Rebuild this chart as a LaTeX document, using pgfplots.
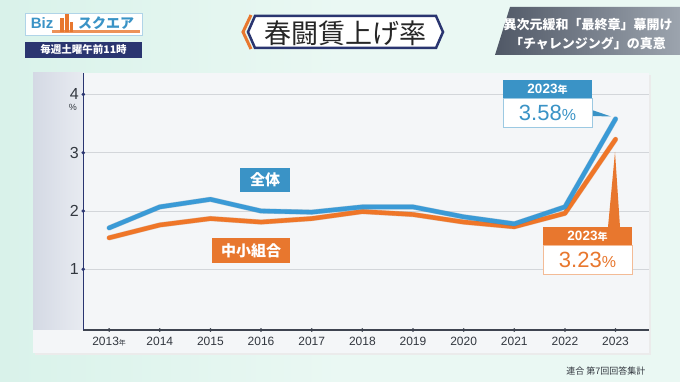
\documentclass[border=0pt]{standalone}
\usepackage{fontspec}
\setmainfont{Liberation Sans}
\newfontfamily\cjk{Noto Sans CJK JP}
\usepackage{pgfplots}
\pgfplotsset{compat=1.18}
\definecolor{mint}{HTML}{D9F2EA}
\definecolor{mintL}{HTML}{EAF8F3}
\definecolor{panelc}{HTML}{F4F6F8}
\definecolor{leftgA}{HTML}{D4D9E4}
\definecolor{leftgB}{HTML}{E8EBF1}
\definecolor{navy}{HTML}{2A3570}
\definecolor{axgray}{HTML}{3E4450}
\definecolor{gridc}{HTML}{D3D6DA}
\definecolor{labc}{HTML}{333840}
\definecolor{blueL}{HTML}{3A9AD6}
\definecolor{orangeL}{HTML}{EF7628}
\definecolor{blueT}{HTML}{3A93C6}
\definecolor{orangeT}{HTML}{E8772E}
\definecolor{darkbox}{HTML}{505866}
\definecolor{lightbox}{HTML}{9CA4AE}
\begin{document}
\begin{tikzpicture}[x=1pt,y=1pt]
\useasboundingbox (0,0) rectangle (680,382);
\fill[mint] (0,0) rectangle (680,382);
\shade[left color=mint, right color=mintL, middle color=mintL] (0,0) rectangle (680,382);
% panel
\fill[black!8] (35,27) rectangle (651,307);
\fill[panelc] (33,29) rectangle (649,309);
\shade[left color=leftgA, right color=leftgB] (33,52) rectangle (83.3,309);
\begin{axis}[
  at={(83.3pt,52pt)}, anchor=south west,
  scale only axis, width=565.7pt, height=257pt,
  xmin=2012.49, xmax=2023.66, ymin=-0.041, ymax=4.367,
  axis x line*=bottom, axis y line*=left,
  x axis line style={draw=axgray, line width=1.6pt, -},
  y axis line style={draw=navy, line width=1.4pt, -},
  xtick={2013,2014,2015,2016,2017,2018,2019,2020,2021,2022,2023},
  xticklabels={2013{\cjk\fontsize{7}{8}\selectfont 年},2014,2015,2016,2017,2018,2019,2020,2021,2022,2023},
  ytick={1,2,3,4},
  major tick length=0pt,
  ymajorgrids, grid style={gridc, line width=0.8pt},
  tick label style={text=labc},
  xticklabel style={font=\fontsize{12}{13}\selectfont, yshift=-3.5pt},
  yticklabel style={font=\fontsize{16}{17}\selectfont, xshift=-1pt},
  /pgf/number format/assume math mode=true,
  clip=false,
]
\addplot[orangeL!80!black, line width=5.2pt, line join=round, line cap=round, opacity=0.35] coordinates {
(2013,1.54) (2014,1.76) (2015,1.87) (2016,1.81) (2017,1.87) (2018,1.99) (2019,1.94) (2020,1.81) (2021,1.73) (2022,1.96) (2023,3.23)};
\addplot[orangeL, line width=4.4pt, line join=round, line cap=round] coordinates {
(2013,1.54) (2014,1.76) (2015,1.87) (2016,1.81) (2017,1.87) (2018,1.99) (2019,1.94) (2020,1.81) (2021,1.73) (2022,1.96) (2023,3.23)};
\addplot[blueL!75!black, line width=5.2pt, line join=round, line cap=round, opacity=0.35] coordinates {
(2013,1.71) (2014,2.07) (2015,2.20) (2016,2.00) (2017,1.98) (2018,2.07) (2019,2.07) (2020,1.90) (2021,1.78) (2022,2.07) (2023,3.58)};
\addplot[blueL, line width=4.4pt, line join=round, line cap=round] coordinates {
(2013,1.71) (2014,2.07) (2015,2.20) (2016,2.00) (2017,1.98) (2018,2.07) (2019,2.07) (2020,1.90) (2021,1.78) (2022,2.07) (2023,3.58)};
\addplot[only marks, mark=*, mark size=1.6pt, axgray] coordinates {
(2013,-0.041) (2014,-0.041) (2015,-0.041) (2016,-0.041) (2017,-0.041) (2018,-0.041) (2019,-0.041) (2020,-0.041) (2021,-0.041) (2022,-0.041) (2023,-0.041)};
\addplot[only marks, mark=*, mark size=1.6pt, navy] coordinates {
(2012.49,1) (2012.49,2) (2012.49,3) (2012.49,4)};
\end{axis}
% percent sign
\node[text=labc, font=\fontsize{9}{10}\selectfont] at (73,275) {\%};
% series labels
\fill[blueT] (240,190) rectangle (290,214);
\node[text=white, font=\cjk\bfseries\fontsize{15}{16}\selectfont] at (265,202) {全体};
\fill[orangeT] (212,119) rectangle (290,144);
\node[text=white, font=\cjk\bfseries\fontsize{15}{16}\selectfont] at (251,131.5) {中小組合};
% blue callout
\fill[blueT] (592,272) -- (611,265.5) -- (592,266) -- cycle;
\fill[white, draw=blueT!50, line width=0.8pt] (503,254.7) rectangle (592,284);
\fill[blueT] (503,284) rectangle (592,302);
\node[text=white, font=\bfseries\fontsize{13.5}{14}\selectfont] at (547.5,293) {2023{\cjk\fontsize{10}{11}\selectfont 年}};
\node[text=blueT, font=\fontsize{22}{24}\selectfont] at (547.5,269.5) {3.58{\fontsize{16}{18}\selectfont\%}};
% orange callout
\fill[orangeT] (608,155) -- (615,230) -- (620,155) -- cycle;
\fill[white, draw=orangeT!50, line width=0.8pt] (543,108) rectangle (632,137);
\fill[orangeT] (543,137) rectangle (632,155);
\node[text=white, font=\bfseries\fontsize{13.5}{14}\selectfont] at (587.5,146) {2023{\cjk\fontsize{10}{11}\selectfont 年}};
\node[text=orangeT, font=\fontsize{22}{24}\selectfont] at (587.5,122.5) {3.23{\fontsize{16}{18}\selectfont\%}};
% source
\node[anchor=east, text=labc, font=\cjk\fontsize{9}{10}\selectfont] at (649,11) {連合\ 第7回回答集計};
% title
\draw[orangeT, line width=3pt] (251,367) -- (243,350) -- (251,333);
\filldraw[fill=white, draw=navy, line width=2.5pt] (248,350) -- (255,366) -- (436,366) -- (443,350) -- (436,334) -- (255,334) -- cycle;
\node[text=black!85, font=\cjk\fontsize{27}{29}\selectfont] at (345,349) {春闘賃上げ率};
% top-right box
\shade[left color=darkbox, right color=lightbox] (510,375) -- (680,375) -- (680,327) -- (495,327) -- cycle;
\node[text=white, font=\cjk\bfseries\fontsize{13}{14}\selectfont] at (588,357) {異次元緩和「最終章」幕開け};
\node[text=white, font=\cjk\bfseries\fontsize{13}{14}\selectfont] at (588,338) {「チャレンジング」の真意};
% logo
\fill[white, draw=blueT!40, line width=0.8pt] (25,347) rectangle (142,369);
\fill[orangeT!80] (52,349) rectangle (140,351.5);
\node[text=blueT, font=\bfseries\fontsize{15}{16}\selectfont] at (42,358.5) {Biz};
\fill[orangeT] (60,350) rectangle (64,364);
\fill[orangeT] (65,350) rectangle (69,368);
\fill[orangeT] (70,350) rectangle (73,360);
\node[text=blueT, font=\cjk\bfseries\fontsize{14}{15}\selectfont] at (106,358.5) {スクエア};
\fill[navy] (25,324) rectangle (142,340);
\node[text=white, font=\cjk\bfseries\fontsize{10.5}{11}\selectfont] at (83.5,332) {毎週土曜午前11時};
\end{tikzpicture}
\end{document}
